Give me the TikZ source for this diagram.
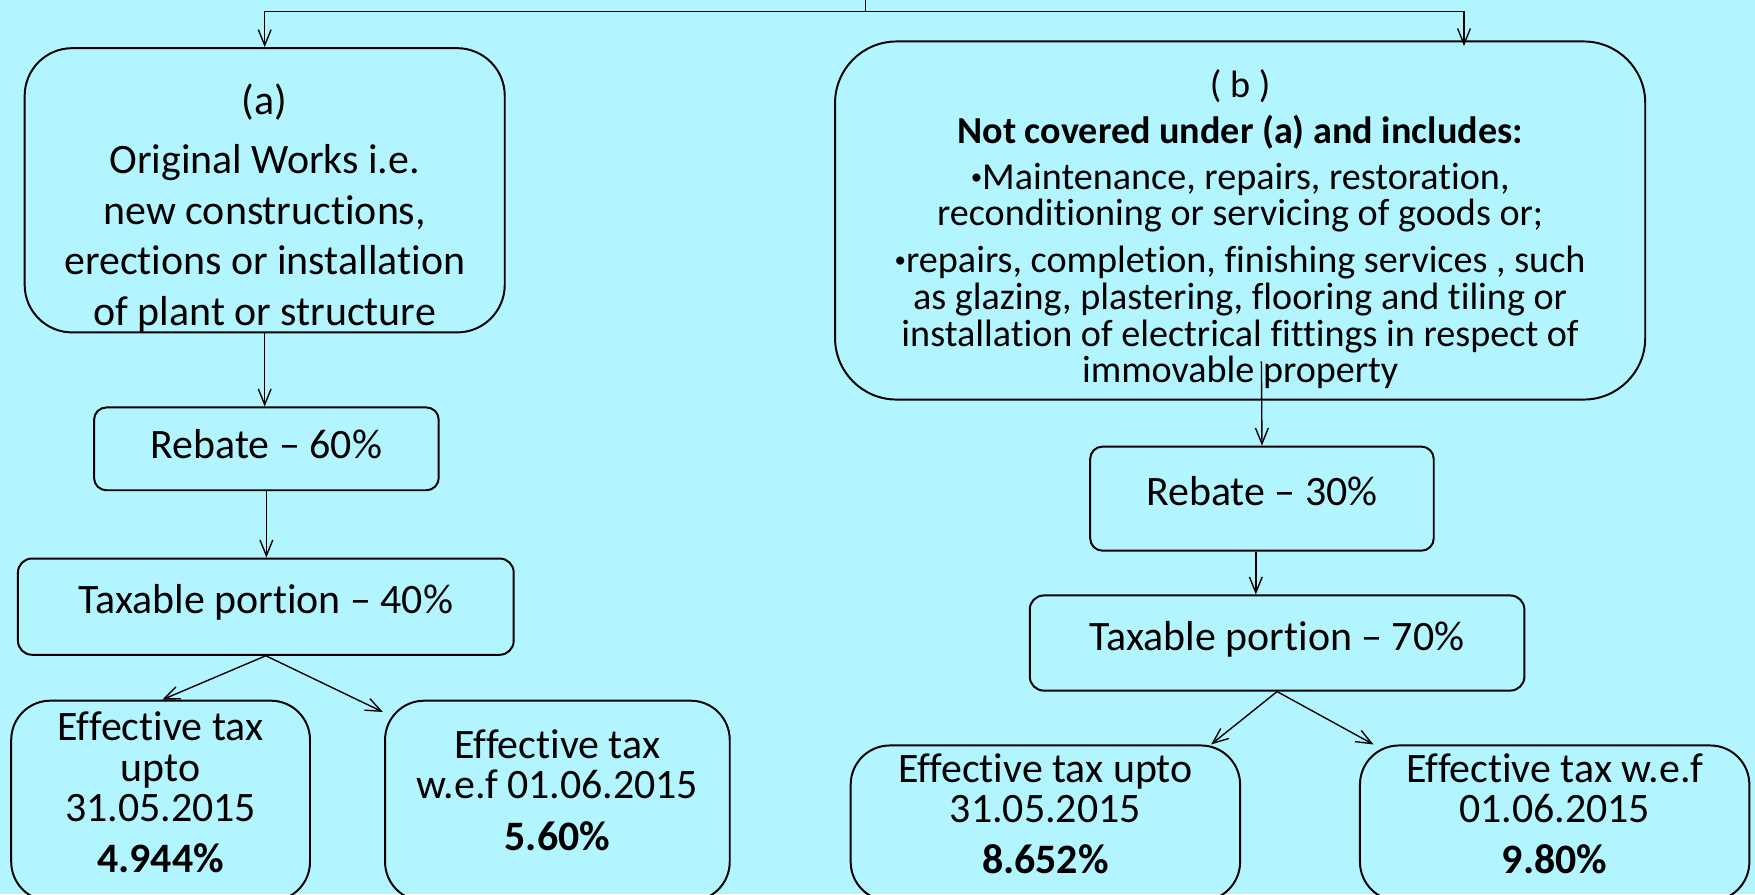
\documentclass[tikz,border=0pt]{standalone}
\usepackage{fontspec}
\setmainfont{Carlito}[Ligatures={TeX,NoCommon}]
\usetikzlibrary{arrows.meta,calc}
\definecolor{bg}{RGB}{179,245,255}
\newcommand{\smbul}{\raisebox{0.12em}{\scalebox{0.6}{•}}}
\begin{document}
\begin{tikzpicture}[x=0.02cm,y=-0.02cm,
  rbox/.style={draw=black,line width=1pt,inner sep=0pt,rectangle},
  big/.style={font=\fontsize{21.3}{25.8}\selectfont},
  txt/.style={align=center,inner sep=0pt},
  conn/.style={line width=0.7pt},
  arr/.style={conn,-{Straight Barb[length=8pt,width=6.5pt]}}]
\fill[bg] (0,0) rectangle (1568,799);
\useasboundingbox (0,0) rectangle (1568,799);
\clip (0,0) rectangle (1568,799);

% boxes
\node[rbox,minimum width=8.58cm,minimum height=5.08cm,rounded corners=0.85cm] (boxa) at (236.5,170) {};
\node[rbox,minimum width=14.48cm,minimum height=6.4cm,rounded corners=1.1cm] (boxb) at (1108,197) {};
\node[rbox,big,text depth=4.5pt,minimum width=6.16cm,minimum height=1.48cm,rounded corners=0.22cm] (r1) at (238,401) {Rebate – 60\%};
\node[rbox,big,text depth=7.7pt,minimum width=8.86cm,minimum height=1.72cm,rounded corners=0.25cm] (t1) at (237.5,542) {Taxable portion – 40\%};
\node[rbox,minimum width=5.34cm,minimum height=3.58cm,rounded corners=0.7cm] (e1) at (143.5,715.5) {};
\node[rbox,minimum width=6.16cm,minimum height=3.58cm,rounded corners=0.7cm] (e2) at (498,715.5) {};
\node[rbox,big,text depth=8pt,minimum width=6.14cm,minimum height=1.86cm,rounded corners=0.22cm] (r2) at (1127.5,445.5) {Rebate – 30\%};
\node[rbox,big,text depth=7.7pt,minimum width=8.84cm,minimum height=1.7cm,rounded corners=0.25cm] (t2) at (1141,574.5) {Taxable portion – 70\%};
\node[rbox,minimum width=6.96cm,minimum height=2.78cm,rounded corners=0.7cm] (e3) at (934,735.5) {};
\node[rbox,minimum width=6.96cm,minimum height=2.78cm,rounded corners=0.7cm] (e4) at (1389,735.5) {};

% texts
\node[txt,big] (ta) at (236.5,186) {(a)\\[4pt]Original Works i.e.\\new constructions,\\erections or installation\\of plant or structure};
\node[txt,font=\fontsize{19.4}{18.7}\selectfont] (tb) at (1108,205) {( b )\\[4.5pt]\textbf{Not covered under (a) and includes:}\\[4.5pt]\smbul Maintenance, repairs, restoration,\\reconditioning or servicing of goods or;\\[5pt]\smbul repairs, completion, finishing services , such\\as glazing, plastering, flooring and tiling or\\installation of electrical fittings in respect of\\immovable property};
\node[txt,font=\fontsize{21.3}{20.4}\selectfont] (e1t) at (143.5,708) {Effective tax\\upto\\31.05.2015\\[5.7pt]\textbf{4.944\%}};
\node[txt,font=\fontsize{21.3}{20.4}\selectfont] (e2t) at (498,706) {Effective tax\\w.e.f 01.06.2015\\[5.7pt]\textbf{5.60\%}};
\node[txt,font=\fontsize{21.3}{20.4}\selectfont] (e3t) at (934,727) {Effective tax upto\\31.05.2015\\[5.7pt]\textbf{8.652\%}};
\node[txt,font=\fontsize{21.3}{20.4}\selectfont] (e4t) at (1389,727) {Effective tax w.e.f\\01.06.2015\\[5.7pt]\textbf{9.80\%}};

% connectors
\coordinate (src) at (773,0);
\coordinate (bus) at (773,10);
\coordinate (bin) at ($(boxb.north)+(200,5)$);
\draw[conn] (src) -- (bus);
\draw[arr] (bus) -| (boxa.north);
\draw[arr] (bus) -| (bin);
\draw[arr] (boxa.south) -- (boxa.south |- r1.north);
\draw[arr] (r1.south) -- (r1.south |- t1.north);
\draw[arr] (t1.south) -- ($(e1.north)+(1.5,0)$);
\draw[arr] (t1.south) -- ($(e2.north west)+(-1,11)$);
\draw[arr] ($(boxb.south)+(19,-35)$) -- (r2.north);
\draw[arr] ([xshift=-0.11cm]r2.south) -- ([xshift=-0.11cm]r2.south |- t2.north);
\draw[arr] (t2.south) -- ($(e3.north)+(148,0)$);
\draw[arr] (t2.south) -- ($(e4.north west)+(13,0)$);
\end{tikzpicture}
\end{document}
